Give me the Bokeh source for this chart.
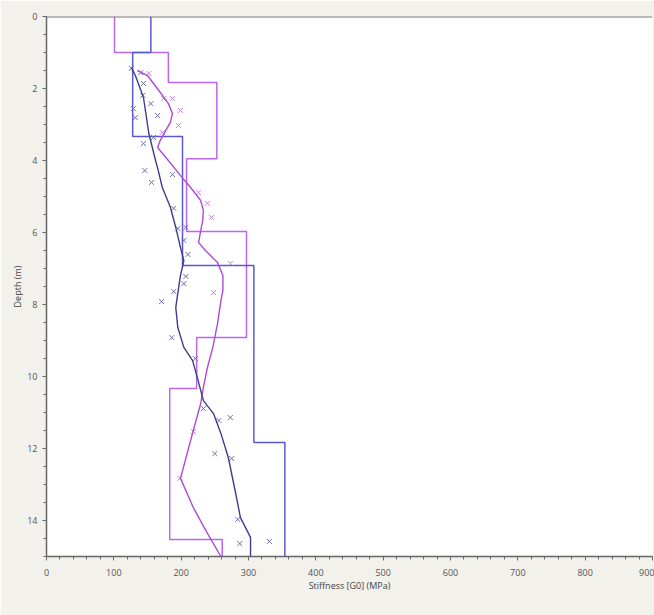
from bokeh.plotting import figure
from bokeh.models import Range1d, FixedTicker, Span, BoxAnnotation
from bokeh.embed import file_html
from bokeh.resources import INLINE

# ---- data ----
x_ticks = [0, 100, 200, 300, 400, 500, 600, 700, 800, 900]
y_ticks = [0, 2, 4, 6, 8, 10, 12, 14]

# stepped layer profiles: boundaries (m) and layer stiffness (MPa)
blue_step_depths = [0, 1.0, 3.33, 6.92, 11.83, 15.0]
blue_step_vals = [155, 128, 202, 308, 354]
purple_step_depths = [0, 1.0, 1.83, 3.95, 5.97, 8.92, 10.33, 14.53, 15.0]
purple_step_vals = [101, 181, 253, 208, 297, 223, 183, 261]

# fitted curves
blue_curve_g = [126, 132, 144, 152, 162, 166, 172, 184, 192, 199, 204, 199, 195, 192,
                195, 204, 217, 224, 233, 248, 259, 270, 281, 288, 303, 303]
blue_curve_d = [1.42, 1.64, 2.25, 3.25, 4.0, 4.28, 4.75, 5.3, 5.86, 6.42, 6.78, 7.19,
                7.69, 8.08, 8.64, 9.19, 9.56, 10.03, 10.67, 11.03, 11.58, 12.25, 13.25,
                13.92, 14.47, 15.0]
purple_curve_g = [135, 150, 169, 181, 187, 184, 177, 169, 165, 181, 199, 214, 229, 233,
                  232, 229, 226, 236, 254, 262, 262, 259, 254, 247, 239, 233, 229, 218,
                  199, 218, 239, 259]
purple_curve_d = [1.5, 1.64, 2.11, 2.42, 2.69, 2.94, 3.17, 3.44, 3.64, 4.0, 4.42, 4.75,
                  5.11, 5.39, 5.67, 5.94, 6.28, 6.5, 6.83, 7.2, 7.6, 7.9, 8.53, 9.19,
                  9.75, 10.3, 10.75, 11.5, 12.83, 13.64, 14.36, 15.0]

# measured points
blue_pts_g = [126, 140, 144, 143, 129, 132, 155, 165, 144, 159, 146, 156, 187, 189, 195,
              207, 204, 210, 207, 204, 189, 171, 186, 221, 233, 256, 273, 250, 275, 284,
              287, 331]
blue_pts_d = [1.44, 1.56, 1.86, 2.19, 2.56, 2.81, 2.42, 2.75, 3.53, 3.36, 4.28, 4.61,
              4.39, 5.33, 5.89, 5.86, 6.22, 6.61, 7.22, 7.42, 7.64, 7.92, 8.92, 9.5,
              10.89, 11.22, 11.14, 12.14, 12.28, 13.97, 14.64, 14.58]
purple_pts_g = [152, 174, 187, 199, 196, 172, 226, 239, 245, 273, 248, 218, 198]
purple_pts_d = [1.58, 2.28, 2.28, 2.61, 3.03, 3.22, 4.89, 5.19, 5.58, 6.86, 7.67, 11.53,
                12.83]

BLUE_STEP = "#5a5ad0"
PURPLE_STEP = "#bb66ee"
BLUE_CURVE = "#3d3d8f"
PURPLE_CURVE = "#b04ad8"
BLUE_PT = "#6b6bab"
PURPLE_PT = "#c681e6"
FONT = "Open Sans"


def step_xy(depths, vals):
    xs, ys = [], []
    for i, v in enumerate(vals):
        xs += [v, v]
        ys += [depths[i], depths[i + 1]]
    return xs, ys


p = figure(width=654, height=615, output_backend="svg", toolbar_location=None,
           x_range=Range1d(0, 900), y_range=Range1d(15, 0),
           min_border_left=46, min_border_right=2, min_border_top=16,
           min_border_bottom=59)
p.outline_line_color = None
p.background_fill_color = "white"
p.border_fill_color = "#f3f1ec"
p.xgrid.visible = False
p.ygrid.visible = False

# white page panel behind the chart (screen units)
p.add_layout(BoxAnnotation(left=5, right=654, top=5, bottom=595,
                           left_units="screen", right_units="screen",
                           top_units="screen", bottom_units="screen",
                           fill_color="white", fill_alpha=1.0, line_color=None,
                           level="underlay"))

bx, by = step_xy(blue_step_depths, blue_step_vals)
px_, py_ = step_xy(purple_step_depths, purple_step_vals)
p.line(px_, py_, line_color=PURPLE_STEP, line_width=1.5)
p.line(bx, by, line_color=BLUE_STEP, line_width=1.5)

p.scatter(purple_pts_g, purple_pts_d, marker="x", size=7, line_color=PURPLE_PT, line_width=1)
p.scatter(blue_pts_g, blue_pts_d, marker="x", size=7, line_color=BLUE_PT, line_width=1)

p.line(purple_curve_g, purple_curve_d, line_color=PURPLE_CURVE, line_width=1.4)
p.line(blue_curve_g, blue_curve_d, line_color=BLUE_CURVE, line_width=1.4)

p.add_layout(Span(location=0, dimension="width", line_color="#777777", line_width=2))

p.xaxis.ticker = FixedTicker(ticks=x_ticks, minor_ticks=list(range(0, 901, 20)))
p.yaxis.ticker = FixedTicker(ticks=y_ticks, minor_ticks=[i * 0.5 for i in range(31)])

for ax in (p.xaxis[0], p.yaxis[0]):
    ax.axis_line_color = "#666666"
    ax.axis_line_width = 1.5
    ax.major_tick_line_color = "#666666"
    ax.minor_tick_line_color = "#666666"
    ax.major_tick_in = 0
    ax.major_tick_out = 4
    ax.minor_tick_in = 0
    ax.minor_tick_out = 3
    ax.major_label_text_font = FONT
    ax.major_label_text_font_size = "9px"
    ax.major_label_text_color = "#555555"
    ax.axis_label_text_font = FONT
    ax.axis_label_text_font_size = "9px"
    ax.axis_label_text_font_style = "normal"
    ax.axis_label_text_color = "#444444"

p.xaxis.axis_label = "Stiffness [G0] (MPa)"
p.yaxis.axis_label = "Depth (m)"
p.xaxis.major_label_standoff = 8
p.xaxis.axis_label_standoff = 0
p.yaxis.major_label_standoff = 5
p.yaxis.axis_label_standoff = 0

open("out.html", "w").write(file_html(p, INLINE))
